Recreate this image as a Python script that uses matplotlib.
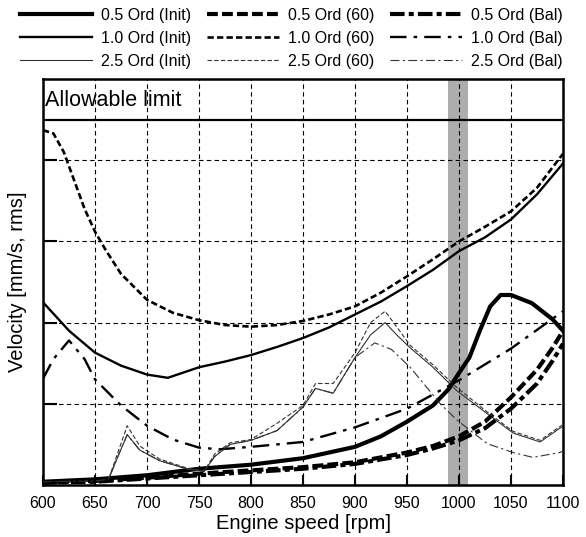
import matplotlib
matplotlib.use("Agg")
import matplotlib.pyplot as plt

plt.rcParams['font.family'] = ['Liberation Sans', 'DejaVu Sans']

# values (velocity, arbitrary grid units)
LIMIT = 4.5
BAND = (989, 1009)

rpm_05_init = [600, 650, 700, 750, 800, 850, 900, 925, 950, 975, 990, 1000, 1010,
               1020, 1030, 1040, 1050, 1070, 1090, 1100]
vel_05_init = [0.04, 0.07, 0.12, 0.2, 0.25, 0.33, 0.47, 0.6, 0.78, 0.98, 1.18, 1.38,
               1.57, 1.9, 2.2, 2.34, 2.34, 2.24, 2.04, 1.9]

rpm_05_60 = [600, 650, 700, 750, 800, 850, 900, 950, 975, 1000, 1025, 1050, 1075, 1090, 1100]
vel_05_60 = [0.03, 0.05, 0.09, 0.14, 0.18, 0.22, 0.28, 0.4, 0.48, 0.6, 0.78, 1.08, 1.42, 1.69, 1.9]

rpm_05_bal = [600, 650, 700, 750, 800, 850, 900, 950, 975, 1000, 1025, 1050, 1075, 1090, 1100]
vel_05_bal = [0.03, 0.04, 0.08, 0.12, 0.16, 0.2, 0.26, 0.37, 0.45, 0.55, 0.7, 0.94, 1.25, 1.53, 1.74]

rpm_10_init = [600, 625, 650, 675, 700, 720, 750, 775, 800, 825, 850, 875, 900, 925,
               950, 975, 1000, 1025, 1050, 1075, 1100]
vel_10_init = [2.25, 1.9, 1.63, 1.47, 1.36, 1.32, 1.45, 1.52, 1.6, 1.7, 1.81, 1.94, 2.1,
               2.26, 2.45, 2.65, 2.88, 3.05, 3.27, 3.58, 3.96]

rpm_10_60 = [600, 610, 620, 630, 640, 650, 660, 675, 700, 725, 750, 775, 800, 825, 850,
             875, 900, 925, 950, 975, 1000, 1025, 1050, 1075, 1100]
vel_10_60 = [4.37, 4.33, 4.1, 3.75, 3.4, 3.12, 2.9, 2.6, 2.28, 2.12, 2.03, 1.97, 1.95,
             1.97, 2.02, 2.1, 2.2, 2.37, 2.57, 2.78, 3.0, 3.18, 3.37, 3.66, 4.08]

rpm_10_bal = [600, 610, 625, 640, 650, 675, 700, 725, 750, 770, 800, 850, 900, 950,
              1000, 1050, 1100]
vel_10_bal = [1.31, 1.55, 1.78, 1.55, 1.3, 0.98, 0.73, 0.56, 0.46, 0.44, 0.47, 0.53,
              0.71, 0.94, 1.29, 1.68, 2.14]

rpm_25_init = [600, 650, 663, 672, 681, 693, 712, 738, 755, 765, 780, 800, 825, 850, 862,
               879, 900, 915, 929, 940, 953, 975, 998, 1027, 1052, 1078, 1097, 1100]
vel_25_init = [0.04, 0.05, 0.07, 0.35, 0.62, 0.43, 0.3, 0.2, 0.17, 0.35, 0.5, 0.55, 0.67,
               0.96, 1.19, 1.13, 1.57, 1.85, 2.0, 1.85, 1.69, 1.45, 1.16, 0.88, 0.64,
               0.53, 0.7, 0.72]

rpm_25_60 = rpm_25_init
vel_25_60 = [0.04, 0.05, 0.07, 0.4, 0.73, 0.48, 0.32, 0.21, 0.17, 0.38, 0.52, 0.56, 0.76,
             0.98, 1.25, 1.25, 1.63, 2.0, 2.14, 1.95, 1.72, 1.48, 1.2, 0.9, 0.66, 0.55,
             0.72, 0.74]

rpm_25_bal = [600, 650, 663, 672, 681, 693, 712, 738, 755, 765, 780, 800, 825, 850, 862,
              879, 900, 919, 935, 953, 982, 998, 1027, 1052, 1071, 1097, 1100]
vel_25_bal = [0.04, 0.05, 0.07, 0.35, 0.62, 0.43, 0.3, 0.2, 0.17, 0.35, 0.5, 0.55, 0.67,
              0.96, 1.19, 1.13, 1.57, 1.75, 1.67, 1.45, 1.0, 0.8, 0.51, 0.40, 0.34, 0.4,
              0.42]

x_ticks = [600, 650, 700, 750, 800, 850, 900, 950, 1000, 1050, 1100]
y_grid = [1, 2, 3, 4]

fig = plt.figure(figsize=(5.86, 5.37), dpi=100)
ax = fig.add_axes([43 / 586, 52 / 537, 520 / 586, 406 / 537])

# grey band around 1000 rpm
ax.axvspan(*BAND, facecolor='#adadad', edgecolor='none', zorder=1)

# dashed grid
for xv in x_ticks[1:-1]:
    ax.axvline(xv, color='black', lw=0.8, ls=(0, (4, 3)), zorder=2)
for yv in y_grid:
    ax.axhline(yv, color='black', lw=0.8, ls=(0, (4, 3)), zorder=2)

ax.axhline(LIMIT, color='black', lw=1.6, zorder=3)
ax.text(602, 4.74, "Allowable limit", fontsize=15.5, va='center', ha='left', zorder=4)

thick, mid, thin = 3.0, 1.7, 0.8
series = [
    (rpm_05_init, vel_05_init, '0.5 Ord (Init)', thick, '-'),
    (rpm_10_init, vel_10_init, '1.0 Ord (Init)', mid, '-'),
    (rpm_25_init, vel_25_init, '2.5 Ord (Init)', thin, '-'),
    (rpm_05_60, vel_05_60, '0.5 Ord (60)', thick, (0, (2.6, 1.0))),
    (rpm_10_60, vel_10_60, '1.0 Ord (60)', 1.9, (0, (2.4, 1.2))),
    (rpm_25_60, vel_25_60, '2.5 Ord (60)', thin, (0, (4, 2))),
    (rpm_05_bal, vel_05_bal, '0.5 Ord (Bal)', thick, (0, (3.5, 1.0, 1.2, 1.0))),
    (rpm_10_bal, vel_10_bal, '1.0 Ord (Bal)', mid, (0, (7, 3, 1.5, 3))),
    (rpm_25_bal, vel_25_bal, '2.5 Ord (Bal)', thin, (0, (8, 3, 2, 3))),
]
handles = []
for xs, ys, name, lw, ls in series:
    col = '#333333' if lw == thin else 'black'
    h, = ax.plot(xs, ys, color=col, lw=lw, ls=ls, label=name, zorder=5)
    handles.append(h)

ax.set_xlim(600, 1100)
ax.set_ylim(0, 5)
ax.set_xticks(x_ticks)
ax.set_yticks(y_grid)
ax.set_yticklabels([])
ax.tick_params(axis='x', direction='in', length=7, width=1.5, labelsize=11.5, pad=8)
ax.tick_params(axis='y', direction='in', length=10, width=1.5)
for sp in ax.spines.values():
    sp.set_linewidth(1.8)

ax.set_xlabel("Engine speed [rpm]", fontsize=14.5, labelpad=2)
ax.set_ylabel("Velocity [mm/s, rms]", fontsize=14.5, labelpad=8)

fig.legend(handles=handles, ncol=3, loc='upper left', bbox_to_anchor=(20 / 586, 1 - 8 / 537),
           frameon=False, fontsize=11.5, handlelength=4.5, handletextpad=0.6,
           columnspacing=0.95, labelspacing=0.5, borderpad=0, borderaxespad=0)

fig.savefig("out.png", dpi=100)
